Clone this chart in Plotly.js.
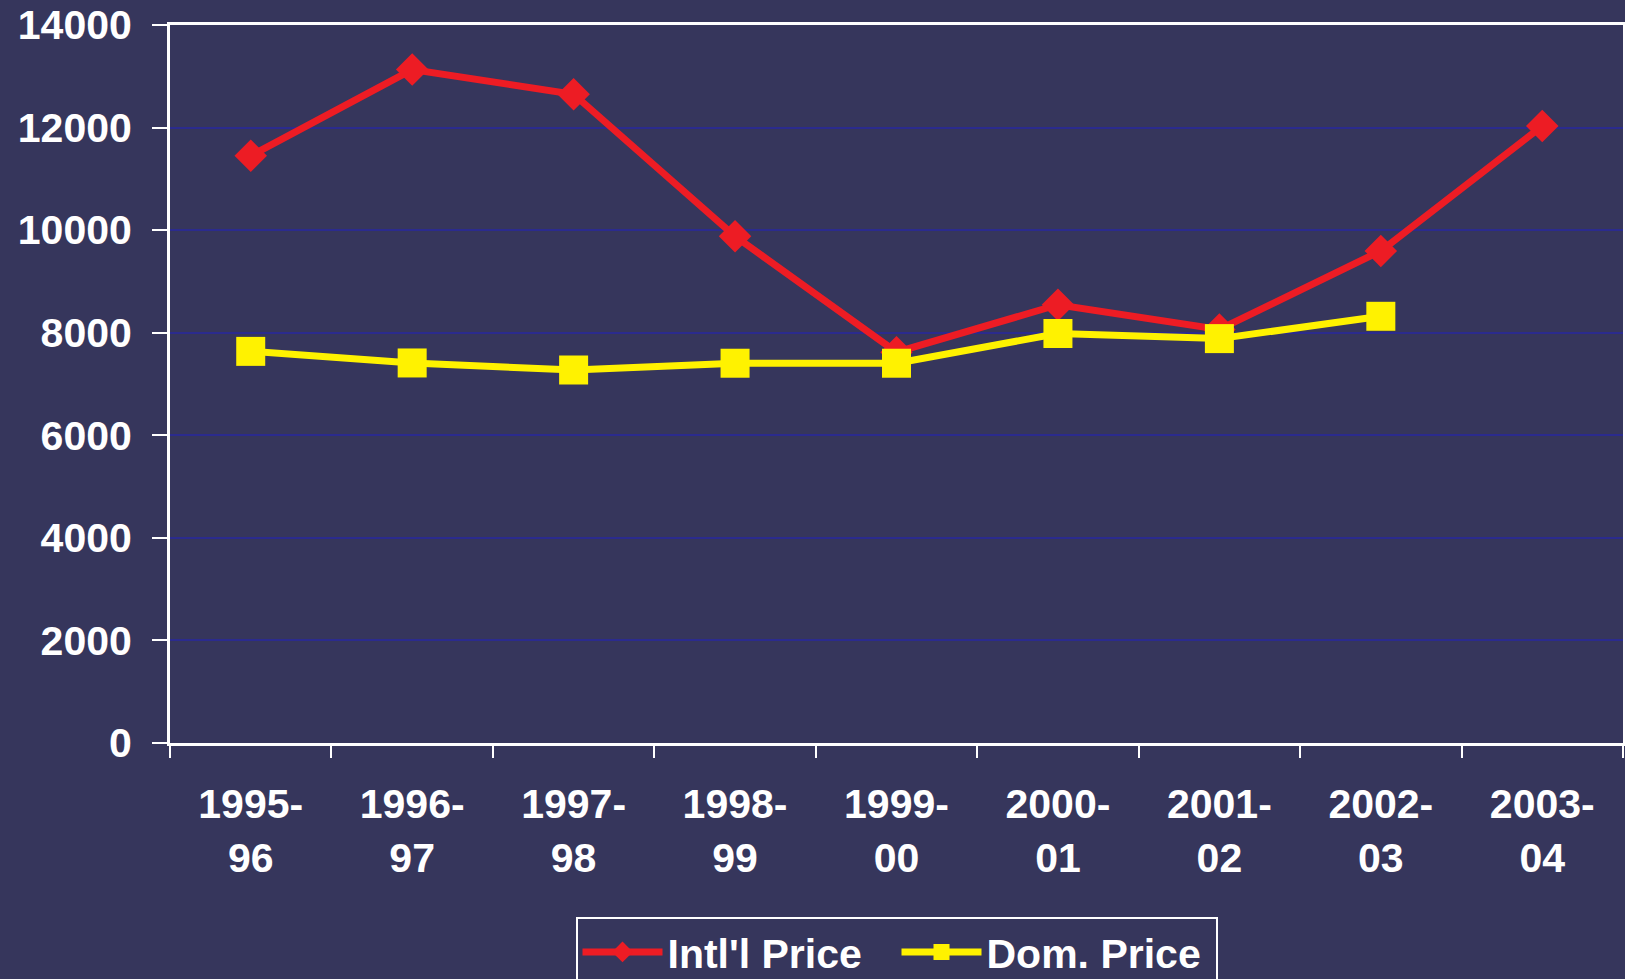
<!DOCTYPE html>
<html>
<head>
<meta charset="utf-8">
<script src="https://cdn.plot.ly/plotly-3.0.1.min.js"></script>
<style>html,body{margin:0;padding:0;background:#36365c;overflow:hidden;}#chart{width:1625px;height:979px;}</style>
</head>
<body>
<div id="chart"></div>
<script>
var categories = ["1995-<br>96","1996-<br>97","1997-<br>98","1998-<br>99","1999-<br>00","2000-<br>01","2001-<br>02","2002-<br>03","2003-<br>04"];
var intlPrice = [11450, 13130, 12650, 9880, 7620, 8545, 8065, 9595, 12030];
var domPrice  = [7636, 7410, 7273, 7405, 7405, 7985, 7885, 8320, null];
var yTicks = [0, 2000, 4000, 6000, 8000, 10000, 12000, 14000];

var FONT = "'Liberation Sans', Arial, Helvetica, sans-serif";
var bg = '#36365c';

var traces = [
  {
    x: categories, y: intlPrice, name: "Intl'l Price", type: 'scatter', mode: 'lines+markers',
    line: {color: '#ed1c24', width: 7},
    marker: {symbol: 'diamond', size: 25, color: '#ed1c24'}
  },
  {
    x: categories, y: domPrice, name: 'Dom. Price', type: 'scatter', mode: 'lines+markers',
    line: {color: '#fff200', width: 7},
    marker: {symbol: 'square', size: 29, color: '#fff200'}
  }
];

var layout = {
  width: 1625, height: 979,
  paper_bgcolor: bg, plot_bgcolor: bg,
  margin: {l: 170, r: 2, t: 25, b: 236, autoexpand: false},
  font: {family: FONT, color: '#ffffff', size: 41, weight: 'bold'},
  showlegend: true,
  legend: {
    orientation: 'h', x: 0.5, xanchor: 'center', y: -0.242, yanchor: 'top',
    bgcolor: 'rgba(0,0,0,0)', bordercolor: '#ffffff', borderwidth: 2,
    font: {family: FONT, size: 41, color: '#ffffff', weight: 'bold'},
    entrywidth: 224, entrywidthmode: 'pixels',
    itemwidth: 80
  },
  xaxis: {
    type: 'category', range: [-0.5, 8.5], fixedrange: true,
    showline: true, linecolor: '#ffffff', linewidth: 3, mirror: true,
    ticks: 'outside', tickson: 'boundaries', ticklen: 12, tickwidth: 2, tickcolor: '#ffffff',
    showgrid: false, zeroline: false,
    tickfont: {family: FONT, size: 41, color: '#ffffff', weight: 'bold'},
    ticklabelstandoff: 23
  },
  yaxis: {
    range: [0, 14000], tickvals: yTicks, ticktext: yTicks.map(String), fixedrange: true,
    showline: true, linecolor: '#ffffff', linewidth: 3, mirror: true,
    ticks: 'outside', ticklen: 15, tickwidth: 2, tickcolor: '#ffffff',
    showgrid: true, gridcolor: '#2b2b8e', gridwidth: 2, zeroline: false,
    tickfont: {family: FONT, size: 41, color: '#ffffff', weight: 'bold'},
    ticklabelstandoff: 12
  }
};

Plotly.newPlot('chart', traces, layout, {displayModeBar: false, staticPlot: true});
</script>
</body>
</html>
